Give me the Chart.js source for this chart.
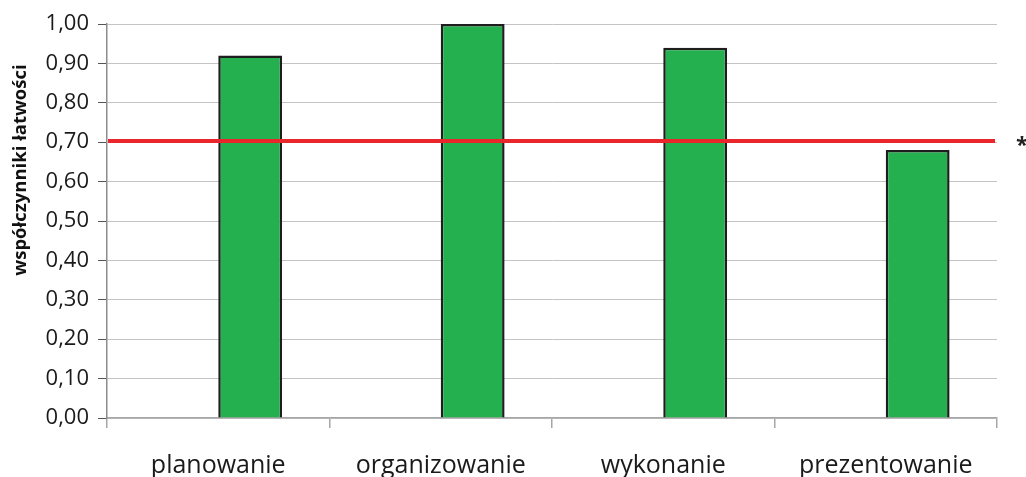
<!DOCTYPE html>
<html><head><meta charset="utf-8">
<script src="https://cdn.jsdelivr.net/npm/chart.js@4"></script>
<style>html,body{margin:0;padding:0;background:#fff}#wrap{width:1026px;height:477px}</style>
</head><body><div id="wrap"><canvas id="c" width="1026" height="477"></canvas></div>
<script>
const categories = ['planowanie', 'organizowanie', 'wykonanie', 'prezentowanie'];
const values = [0.92, 1.00, 0.94, 0.68];
const emptySeries = [null, null, null, null];
const threshold = 0.703;
const thresholdMark = '*';
const yTitle = 'współczynniki łatwości';

const refLine = {
  id: 'refLine',
  afterDatasetsDraw(chart) {
    const {ctx, chartArea, scales} = chart;
    const y = scales.y.getPixelForValue(threshold);
    ctx.save();
    ctx.strokeStyle = '#e8262b';
    ctx.lineWidth = 4;
    ctx.beginPath();
    ctx.moveTo(chartArea.left + 1, y);
    ctx.lineTo(chartArea.right - 2, y);
    ctx.stroke();
    ctx.fillStyle = '#222';
    ctx.font = 'bold 22px "Open Sans"';
    ctx.textAlign = 'center';
    ctx.textBaseline = 'middle';
    ctx.fillText(thresholdMark, chartArea.right + 25, y + 5);
    ctx.restore();
  },
  afterDraw(chart) {
    const {ctx} = chart;
    ctx.save();
    ctx.translate(21, 170);
    ctx.rotate(-Math.PI / 2);
    ctx.fillStyle = '#111';
    ctx.font = 'bold 18.5px "Open Sans"';
    ctx.textAlign = 'center';
    ctx.textBaseline = 'middle';
    ctx.fillText(yTitle, 0, 0);
    ctx.restore();
  }
};

new Chart(document.getElementById('c'), {
  type: 'bar',
  data: {
    labels: categories,
    datasets: [
      {data: emptySeries, backgroundColor: '#24b04e'},
      {data: values, backgroundColor: '#24b04e', borderColor: '#1e1e1e', borderWidth: 2.5}
    ]
  },
  options: {
    responsive: false,
    animation: false,
    devicePixelRatio: 1,
    categoryPercentage: 0.574,
    barPercentage: 1,
    layout: {padding: {top: 24, right: 29, left: 0, bottom: 0}},
    plugins: {legend: {display: false}, tooltip: {enabled: false}},
    scales: {
      x: {
        grid: {offset: true, drawOnChartArea: false, drawTicks: true, tickLength: 10, color: '#a6a6a6', lineWidth: 1.5},
        border: {display: true, color: '#a6a6a6', width: 1.5},
        ticks: {font: {family: 'Open Sans', size: 25}, color: '#1a1a1a', padding: 23},
        afterFit(s) { s.height = 59; }
      },
      y: {
        min: 0, max: 1,
        grid: {color: '#c4c4c4', lineWidth: 1, tickLength: 9, drawTicks: true, tickColor: '#555'},
        border: {display: true, color: '#8c8c8c', width: 1.5},
        ticks: {stepSize: 0.1, font: {family: 'Open Sans', size: 22}, color: '#1a1a1a', padding: 9,
                callback: v => v.toFixed(2).replace('.', ',')},
        afterFit(s) { s.width = 107; }
      }
    }
  },
  plugins: [refLine]
});
</script></body></html>
